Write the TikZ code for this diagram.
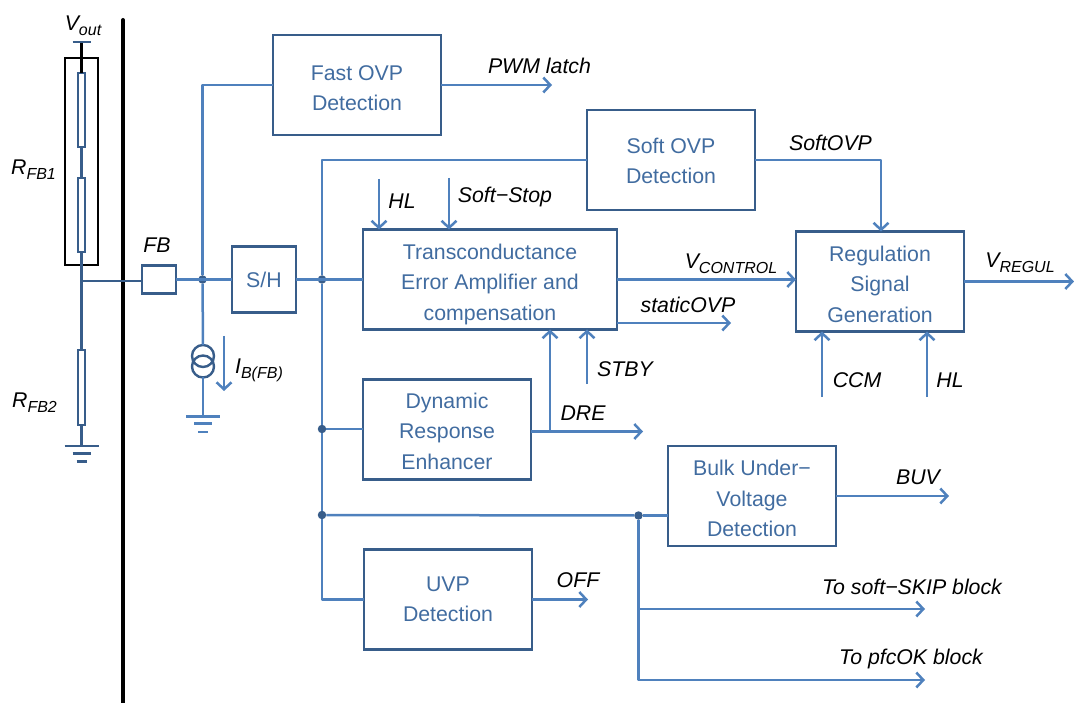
\documentclass[tikz,border=0pt]{standalone}
\usepackage{fontspec}
\setmainfont{Liberation Sans}
\usetikzlibrary{positioning, calc, arrows.meta}
\definecolor{boxcol}{RGB}{56,93,138}
\definecolor{wirecol}{RGB}{79,129,189}
\definecolor{textcol}{RGB}{65,108,160}
\newcommand{\lowtext}[1]{\raisebox{-5pt}{\fontsize{16}{16}\selectfont #1}}
\newcommand{\topgap}[1]{\rule{0pt}{#1pt}}

\begin{document}
\begin{tikzpicture}[
    x=1pt, y=-1pt,
    >={Straight Barb[length=7pt,width=15pt]},
    block/.style={rectangle, draw=boxcol, line width=2.8pt, minimum width=168pt, minimum height=100pt, outer sep=0pt, align=center, text=textcol, font=\fontsize{21.3}{30.5}\selectfont},
    resistor/.style={rectangle, draw=boxcol, line width=2pt, fill=white, minimum width=7pt, minimum height=74pt, inner sep=0pt, outer sep=0pt},
    sig/.style={inner sep=0pt, text=black, font=\fontsize{21.3}{25}\selectfont\itshape},
    wire/.style={draw=wirecol, line width=2.5pt, line join=round},
    darkwire/.style={draw=boxcol, line width=2.4pt},
    dot/.style={circle, fill=boxcol, minimum size=8.5pt, inner sep=0pt, outer sep=0pt}
]
\useasboundingbox (0,0) rectangle (1074,703);

% blocks
\node[block] (fastovp) at (357,85) {\topgap{21}Fast OVP\\Detection};
\node[block] (softovp) at (671,160) {\topgap{17}Soft OVP\\Detection};
\node[block, minimum width=254pt] (trans) at (490,279.5) {\topgap{25}Transconductance\\Error Amplifier and\\compensation};
\node[block] (regul) at (880,281.5) {\topgap{21}Regulation\\Signal\\Generation};
\node[block, minimum width=64pt, minimum height=66pt, left=67pt of trans] (sh) {\topgap{17}S/H};
\node[block, minimum width=34pt, minimum height=28pt, inner sep=0pt, left=56pt of sh] (fb) {};
\node[block, below=50pt of trans.south west, anchor=north west] (dyn) {\topgap{19}Dynamic\\Response\\Enhancer};
\node[block, below=70pt of dyn.south west, anchor=north west, xshift=1pt] (uvp) {UVP\\Detection};
\node[block] (bulk) at (752,496) {\topgap{21}Bulk Under−\\Voltage\\Detection};

% left side divider and feedback network
\coordinate (divtop) at (123,20);
\coordinate (divbot) at (123,703);
\draw[line width=4pt, line cap=round] (divtop) -- (divbot);
\node[rectangle, draw=black, line width=2.4pt, minimum width=33pt, minimum height=207pt, outer sep=0pt] (rbox) at (81.5,161.5) {};
\coordinate (vout) at (81.5,42);
\node[resistor] (rfb1a) at (81.5,110) {};
\node[resistor, below=31pt of rfb1a] (rfb1b) {};
\node[resistor] (rfb2) at (81.5,387.5) {};
\coordinate (fbnode) at (81.5,281);
\coordinate (gnda) at (81.5,446);
\draw[line width=2.2pt, black] (vout) -- (rfb1a.north);
\draw[darkwire] ([xshift=-9pt]vout) -- ([xshift=9pt]vout);
\draw[darkwire] (rfb1a.south) -- (rfb1b.north);
\draw[darkwire] (rfb1b.south) -- (rfb2.north);
\draw[darkwire] (rfb2.south) -- (gnda);
\draw[darkwire] (fbnode) -- (fbnode -| fb.west);
\draw[darkwire] ([xshift=-17pt]gnda) -- ([xshift=17pt]gnda);
\draw[darkwire] ([xshift=-9pt,yshift=-7.5pt]gnda) -- ([xshift=9pt,yshift=-7.5pt]gnda);
\draw[darkwire] ([xshift=-5pt,yshift=-15.5pt]gnda) -- ([xshift=5pt,yshift=-15.5pt]gnda);

% bias current source
\node[dot] (jfb) at (202.5,279.5) {};
\node[circle, draw=boxcol, line width=2.4pt, minimum size=22pt, inner sep=0pt, outer sep=0pt] (isrca) at (203,356) {};
\node[circle, draw=boxcol, line width=2.4pt, minimum size=22pt, inner sep=0pt, outer sep=0pt] (isrcb) at (203,366.5) {};
\coordinate (gndb) at (203,416.5);
\coordinate (ibtop) at (224,336);
\coordinate (ibbot) at (224,391);
\draw[wire] (fb.east) -- (sh.west);
\draw[wire] (jfb) |- (fastovp.west);
\draw[wire] (jfb) -- (isrca.north);
\draw[wire] (isrcb.south) -- (gndb);
\draw[wire] ([xshift=-17pt]gndb) -- ([xshift=17pt]gndb);
\draw[wire] ([xshift=-9pt,yshift=-7pt]gndb) -- ([xshift=9pt,yshift=-7pt]gndb);
\draw[wire] ([xshift=-5pt,yshift=-15.5pt]gndb) -- ([xshift=5pt,yshift=-15.5pt]gndb);
\draw[wire, ->] (ibtop) -- (ibbot);

% sense bus
\node[dot] (jsh) at (322,279.5) {};
\node[dot] (jdyn) at (322,429) {};
\node[dot] (jbus) at (322,515) {};
\node[dot] (jbulk) at (638.5,515.5) {};
\draw[wire] (sh.east) -- (trans.west);
\draw[wire] (softovp.west) -| (jsh);
\draw[wire] (jsh) -- (jdyn);
\draw[wire] (jdyn) -- (jbus);
\draw[wire] (jdyn) -- (jdyn -| dyn.west);
\draw[wire] (jbus) |- (uvp.west);
\draw[wire] (jbus) -- (jbulk);
\draw[wire] (jbulk) -- (jbulk -| bulk.west);

% outputs
\coordinate[right=111pt of fastovp.east] (pwm);
\coordinate[right=110pt of regul.east] (vregul);
\coordinate[right=113pt of bulk.east] (buv);
\coordinate[right=56pt of uvp.east] (off);
\coordinate (dreout) at (643,431.5);
\coordinate (dretap) at (550,431.5);
\coordinate (statout) at (731,323);
\coordinate (softin) at (881,160);
\coordinate (skip) at (925,609);
\coordinate (pfc) at (925,680);
\draw[wire, ->] (fastovp.east) -- (pwm);
\draw[wire, ->] (softovp.east |- softin) -| (regul.north -| softin);
\draw[wire, ->] (trans.east) -- (trans.east -| regul.west);
\draw[wire, ->] (trans.east |- statout) -- (statout);
\draw[wire, ->] (regul.east) -- (vregul);
\draw[wire, ->] (bulk.east) -- (buv);
\draw[wire, ->] (uvp.east) -- (off);
\draw[wire, ->] (dyn.east |- dreout) -- (dreout);
\draw[wire, ->] (dretap) -- (dretap |- trans.south);
\draw[wire, ->] (jbulk) |- (skip);
\draw[wire, ->] (jbulk) |- (pfc);

% inputs
\coordinate (hlin) at (379,179);
\coordinate (stopin) at (449,178);
\coordinate (stbyin) at (587,384);
\coordinate (ccmin) at (822,397);
\coordinate (hlregin) at (927,397);
\draw[wire, ->] (hlin) -- (hlin |- trans.north);
\draw[wire, ->] (stopin) -- (stopin |- trans.north);
\draw[wire, ->] (stbyin) -- (stbyin |- trans.south);
\draw[wire, ->] (ccmin) -- (ccmin |- regul.south);
\draw[wire, ->] (hlregin) -- (hlregin |- regul.south);

% labels
\node[sig] (voutlabel) at (83,26) {V\lowtext{out}};
\node[sig] (rfb1label) at (33.5,170) {R\lowtext{FB1}};
\node[sig] (rfb2label) at (34.5,403) {R\lowtext{FB2}};
\node[sig] (fblabel) at (157,245) {FB};
\node[sig] (iblabel) at (259,370) {I\lowtext{B(FB)}};
\node[sig] (pwmlabel) at (539.5,66) {PWM latch};
\node[sig] (softlabel) at (830.5,143) {SoftOVP};
\node[sig] (hllabel) at (402,201) {HL};
\node[sig] (stoplabel) at (505,197) {Soft−Stop};
\node[sig] (vcontrollabel) at (731,264) {V\lowtext{CONTROL}};
\node[sig] (vregullabel) at (1020,263) {V\lowtext{REGUL}};
\node[sig] (statlabel) at (688,305) {staticOVP};
\node[sig] (stbylabel) at (625,369) {STBY};
\node[sig] (drelabel) at (583,413) {DRE};
\node[sig] (ccmlabel) at (857,380) {CCM};
\node[sig] (hlreglabel) at (950,380) {HL};
\node[sig] (buvlabel) at (918,477) {BUV};
\node[sig] (offlabel) at (578,580) {OFF};
\node[sig] (skiplabel) at (912,587) {To soft−SKIP block};
\node[sig] (pfclabel) at (911,659) {To pfcOK block};

\end{tikzpicture}
\end{document}
